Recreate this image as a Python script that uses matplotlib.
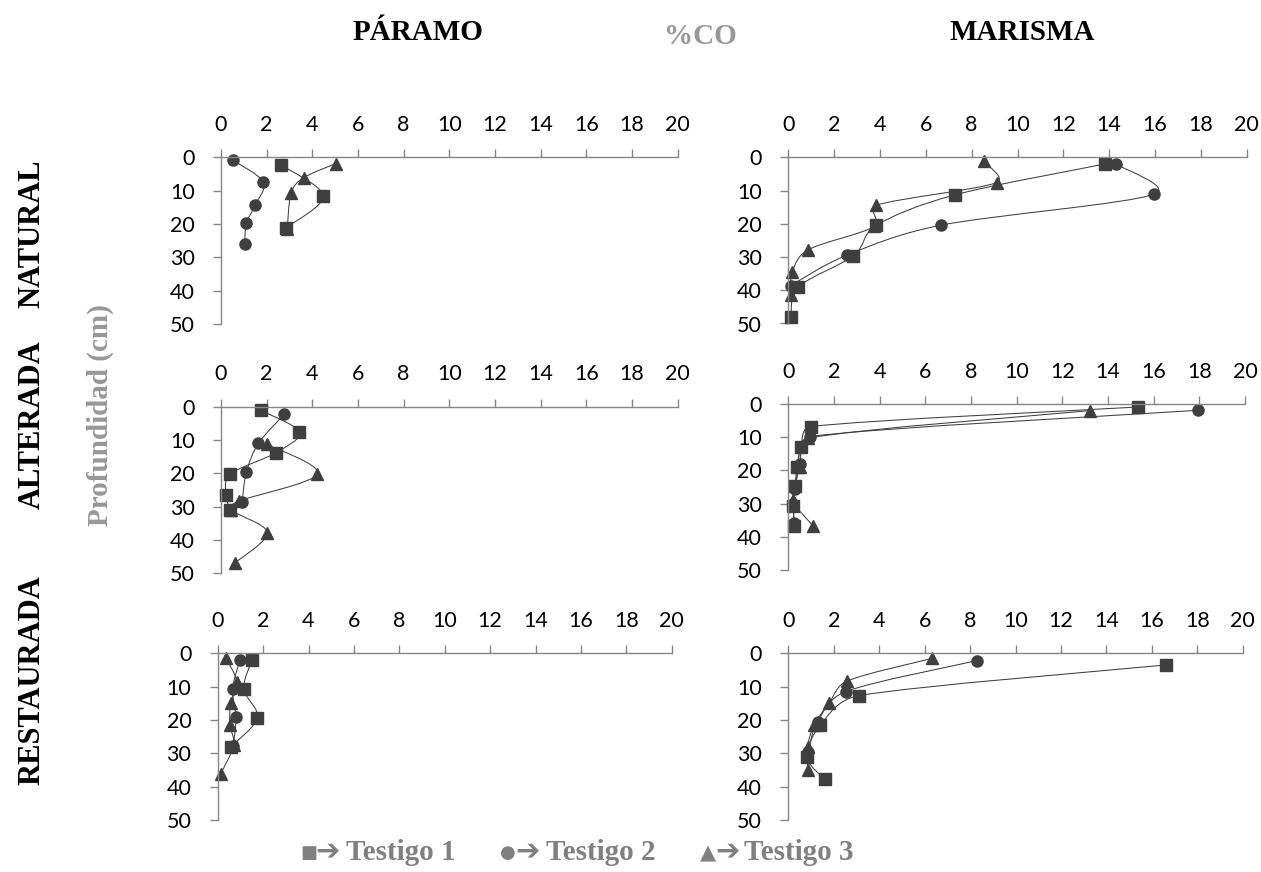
import matplotlib
matplotlib.use('Agg')
import matplotlib.pyplot as plt
from matplotlib.path import Path
from matplotlib.patches import PathPatch
import numpy as np

# %CO frente a profundidad (cm), tres testigos por ambiente

# PÁRAMO - NATURAL
pn_t1_co = [2.63, 4.48, 2.86]
pn_t1_depth = [2.3, 11.6, 21.1]
pn_t2_co = [0.51, 1.85, 1.5, 1.11, 1.04]
pn_t2_depth = [0.8, 7.4, 14.3, 19.8, 26.0]
pn_t3_co = [5.02, 3.63, 3.07, 2.9]
pn_t3_depth = [1.9, 6.1, 10.8, 21.5]

# MARISMA - NATURAL
mn_t1_co = [13.82, 7.27, 3.83, 2.84, 0.44, 0.12]
mn_t1_depth = [2.0, 11.3, 20.5, 29.6, 39.0, 48.0]
mn_t2_co = [14.3, 15.96, 6.68, 2.57, 0.1]
mn_t2_depth = [2.0, 11.1, 20.4, 29.4, 38.6]
mn_t3_co = [8.54, 9.09, 3.81, 3.75, 0.87, 0.17, 0.12]
mn_t3_depth = [1.2, 7.6, 14.5, 20.8, 27.8, 34.5, 41.5]

# PÁRAMO - ALTERADA
pa_t1_co = [1.75, 3.43, 2.41, 0.41, 0.22, 0.41]
pa_t1_depth = [1.1, 7.6, 13.8, 20.2, 26.5, 31.0]
pa_t2_co = [2.77, 1.64, 1.11, 0.93]
pa_t2_depth = [2.3, 11.0, 19.7, 28.5]
pa_t3_co = [2.03, 4.22, 0.8, 0.45, 2.03, 0.63]
pa_t3_depth = [11.3, 20.2, 28.3, 31.0, 37.8, 46.8]

# MARISMA - ALTERADA
ma_t1_co = [15.33, 0.99, 0.54, 0.39, 0.29, 0.22, 0.26]
ma_t1_depth = [0.9, 6.8, 13.0, 19.0, 24.8, 30.8, 36.6]
ma_t2_co = [17.95, 0.95, 0.51, 0.29, 0.22, 0.26]
ma_t2_depth = [1.9, 9.8, 18.0, 25.6, 30.0, 35.8]
ma_t3_co = [13.2, 0.88, 0.5, 0.22, 1.1]
ma_t3_depth = [2.0, 10.3, 19.0, 28.8, 36.8]

# PÁRAMO - RESTAURADA
pr_t1_co = [1.51, 1.15, 1.75, 0.59]
pr_t1_depth = [2.0, 10.7, 19.3, 28.0]
pr_t2_co = [0.98, 0.66, 0.81, 0.68]
pr_t2_depth = [2.0, 10.7, 19.2, 27.8]
pr_t3_co = [0.37, 0.84, 0.57, 0.54, 0.7, 0.13]
pr_t3_depth = [1.5, 8.5, 14.8, 21.5, 27.6, 36.2]

# MARISMA - RESTAURADA
mr_t1_co = [16.61, 3.11, 1.41, 0.84, 1.61]
mr_t1_depth = [3.5, 12.7, 21.5, 31.2, 37.8]
mr_t2_co = [8.29, 2.52, 1.29, 0.88]
mr_t2_depth = [2.2, 11.5, 20.5, 29.5]
mr_t3_co = [6.34, 2.6, 1.79, 1.14, 0.85, 0.85]
mr_t3_depth = [1.5, 8.3, 15.0, 21.5, 28.0, 35.0]

x_ticks = [0, 2, 4, 6, 8, 10, 12, 14, 16, 18, 20]
y_ticks = [0, 10, 20, 30, 40, 50]

W, H = 1261, 872
AX_GRAY = '#868686'
MARK = '#3f3f3f'


def clamp(v, seg, f=0.45):
    n = np.hypot(*v)
    lim = f * np.hypot(*seg)
    return v if n <= lim or n == 0 else v * lim / n


def smooth_path(ax, x, y):
    # curva suavizada tipo Excel, calculada en pixeles
    tr = ax.transData
    pts = tr.transform(np.column_stack([x, y]).astype(float))
    verts = [pts[0]]
    codes = [Path.MOVETO]
    n = len(pts)
    for i in range(n - 1):
        p0 = pts[i - 1] if i > 0 else pts[i]
        p1 = pts[i]
        p2 = pts[i + 1]
        p3 = pts[i + 2] if i + 2 < n else pts[i + 1]
        seg = p2 - p1
        a1 = clamp((p2 - p0) / 6, seg)
        a2 = clamp((p3 - p1) / 6, seg)
        verts += [p1 + a1, p2 - a2, p2]
        codes += [Path.CURVE4] * 3
    verts = tr.inverted().transform(np.array(verts))
    return Path(verts, codes)


def panel(left, right, top, bottom, series):
    ax = fig.add_axes([left / W, 1 - bottom / H, (right - left) / W, (bottom - top) / H])
    ax.set_xlim(0, 20)
    ax.set_ylim(50, 0)
    ax.set_xticks(x_ticks)
    ax.set_yticks(y_ticks)
    ax.xaxis.tick_top()
    for s in ['right', 'bottom']:
        ax.spines[s].set_visible(False)
    for s in ['top', 'left']:
        ax.spines[s].set_color(AX_GRAY)
        ax.spines[s].set_linewidth(1.0)
    ax.tick_params(axis='x', direction='out', length=6, width=1, color=AX_GRAY,
                   labelsize=15.5, pad=10)
    ax.tick_params(axis='y', direction='out', length=6, width=1, color=AX_GRAY,
                   labelsize=15.5, pad=13)
    for lab in ax.get_xticklabels() + ax.get_yticklabels():
        lab.set_fontfamily('Lato')
    ax.patch.set_visible(False)
    for (co, depth, marker, ms) in series:
        ax.add_patch(PathPatch(smooth_path(ax, co, depth), fill=False, edgecolor=MARK,
                               lw=0.75, clip_on=False))
        ax.plot(co, depth, linestyle='none', marker=marker, ms=ms, color=MARK,
                clip_on=False)
    return ax


fig = plt.figure(figsize=(W / 100, H / 100), dpi=100)

panel(221, 677.7, 157.3, 324, [(pn_t1_co, pn_t1_depth, 's', 8),
                               (pn_t2_co, pn_t2_depth, 'o', 8),
                               (pn_t3_co, pn_t3_depth, '^', 9)])
panel(788.3, 1246.7, 157.3, 323.5, [(mn_t1_co, mn_t1_depth, 's', 8),
                                    (mn_t2_co, mn_t2_depth, 'o', 8),
                                    (mn_t3_co, mn_t3_depth, '^', 9)])
panel(221, 677.7, 406.7, 573.3, [(pa_t1_co, pa_t1_depth, 's', 8),
                                 (pa_t2_co, pa_t2_depth, 'o', 8),
                                 (pa_t3_co, pa_t3_depth, '^', 9)])
panel(788.3, 1245, 404, 570, [(ma_t1_co, ma_t1_depth, 's', 8),
                              (ma_t2_co, ma_t2_depth, 'o', 8),
                              (ma_t3_co, ma_t3_depth, '^', 9)])
panel(217.7, 671.7, 653.3, 820, [(pr_t1_co, pr_t1_depth, 's', 8),
                                 (pr_t2_co, pr_t2_depth, 'o', 8),
                                 (pr_t3_co, pr_t3_depth, '^', 9)])
panel(788.3, 1242.7, 653.3, 820, [(mr_t1_co, mr_t1_depth, 's', 8),
                                  (mr_t2_co, mr_t2_depth, 'o', 8),
                                  (mr_t3_co, mr_t3_depth, '^', 9)])

serif = ['Liberation Serif', 'DejaVu Serif']


def ftext(x, y, s, ha='center', family=serif, **kw):
    return fig.text(x / W, 1 - y / H, s, ha=ha, va='center', family=family,
                    fontweight='bold', **kw)


ftext(418, 32, 'PÁRAMO', fontsize=21, color='black')
ftext(700, 37, '%CO', fontsize=21, color='#989898')
ftext(1022, 32, 'MARISMA', fontsize=21, color='black')

ftext(32, 234, 'NATURAL', fontsize=22, rotation=90, color='black')
ftext(32, 425, 'ALTERADA', fontsize=22, rotation=90, color='black')
ftext(32, 680, 'RESTAURADA', fontsize=22, rotation=90, color='black')
ftext(100, 415, 'Profundidad (cm)', fontsize=21, rotation=90, color='#989898')

# leyenda: simbolo, flecha, texto
LEG = '#808080'
legend_items = [('■', 'Testigo 1', 300, 13, 346),
                ('●', 'Testigo 2', 500, 13, 546),
                ('▲', 'Testigo 3', 700, 15, 744)]
for sym, name, x0, sym_size, x_txt in legend_items:
    ftext(x0, 853, sym, ha='left', family=['DejaVu Sans'], fontsize=sym_size, color=LEG)
    ftext(x0 + 15, 851, '➔', ha='left', family=['DejaVu Sans'], fontsize=21, color=LEG)
    ftext(x_txt, 852, name, ha='left', fontsize=21, color=LEG)

fig.savefig('out.png', dpi=100)
